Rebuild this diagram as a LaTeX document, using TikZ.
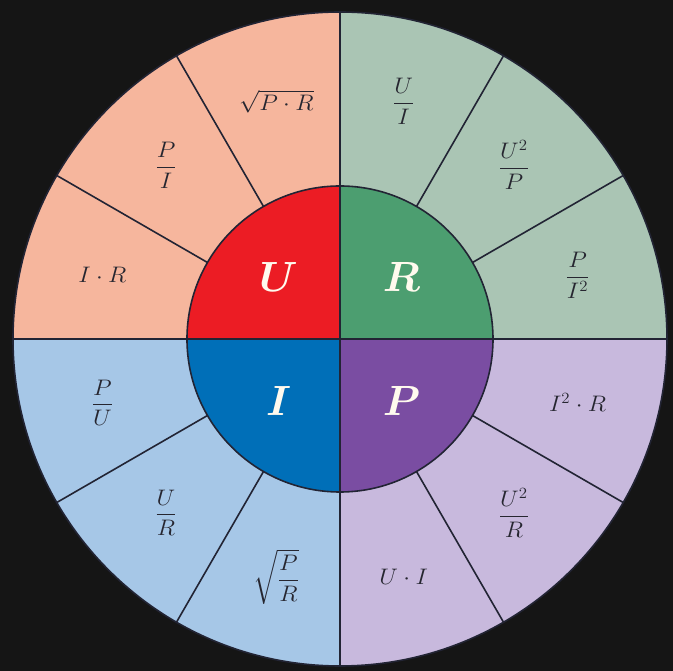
\documentclass[tikz,border=0pt]{standalone}
\usepackage{amsmath}
\usepackage{graphicx}
\definecolor{bgdark}{RGB}{21,21,21}
\definecolor{edge}{RGB}{34,36,52}
\definecolor{ink}{RGB}{38,38,48}
\definecolor{ringU}{RGB}{246,182,157}
\definecolor{ringR}{RGB}{170,197,180}
\definecolor{ringI}{RGB}{166,199,231}
\definecolor{ringP}{RGB}{200,185,221}
\definecolor{coreU}{RGB}{236,28,36}
\definecolor{coreR}{RGB}{76,158,112}
\definecolor{coreI}{RGB}{0,111,184}
\definecolor{coreP}{RGB}{122,77,162}
\definecolor{letter}{RGB}{255,250,238}

\begin{document}
\begin{tikzpicture}[x=1pt, y=1pt,
    divider/.style={draw=edge, line width=1.6pt},
    formula/.style={font=\fontsize{17.28}{20}\selectfont, text=ink},
    quantity/.style={font=\fontsize{24.88}{30}\selectfont\boldmath, text=letter}]
  \fill[bgdark] (-340,-332) rectangle (333,339);
  % outer ring and inner disc
  \foreach \a/\c in {0/R, 90/U, 180/I, 270/P} {
    \fill[ring\c] (0,0) -- (\a:327) arc[start angle=\a, end angle=\a+90, radius=327] -- cycle;
    \fill[core\c] (0,0) -- (\a:153) arc[start angle=\a, end angle=\a+90, radius=153] -- cycle;
  }
  % dividers
  \foreach \a in {30, 60, 120, 150, 210, 240, 300, 330}
    \draw[divider] (\a:153) -- (\a:327);
  \draw[divider] (-327,0) -- (327,0);
  \draw[divider] (0,-327) -- (0,327);
  \draw[divider] (0,0) circle[radius=153];
  \draw[divider] (0,0) circle[radius=327];

  \foreach \a/\n/\f in {15/pii/{\dfrac{P}{I^2}}, 45/uup/{\dfrac{U^2}{P}}, 75/udi/{\dfrac{U}{I}},
      105/sqpr/{\sqrt{P\cdot R}}, 135/pdi/{\dfrac{P}{I}}, 165/itr/{I\cdot R},
      195/pdu/{\dfrac{P}{U}}, 225/udr/{\dfrac{U}{R}}, 255/sqpdr/{\sqrt{\dfrac{P}{R}}},
      285/uti/{U\cdot I}, 315/uur/{\dfrac{U^2}{R}}, 345/iir/{I^2\cdot R}}
    \node[formula] (\n) at (\a:246) {\scalebox{1.4}[1.3]{$\f$}};

  \foreach \a/\q in {45/R, 135/U, 225/I, 315/P}
    \node[quantity] (q\q) at (\a:87) {\scalebox{1.7}{$\q$}};
\end{tikzpicture}
\end{document}
